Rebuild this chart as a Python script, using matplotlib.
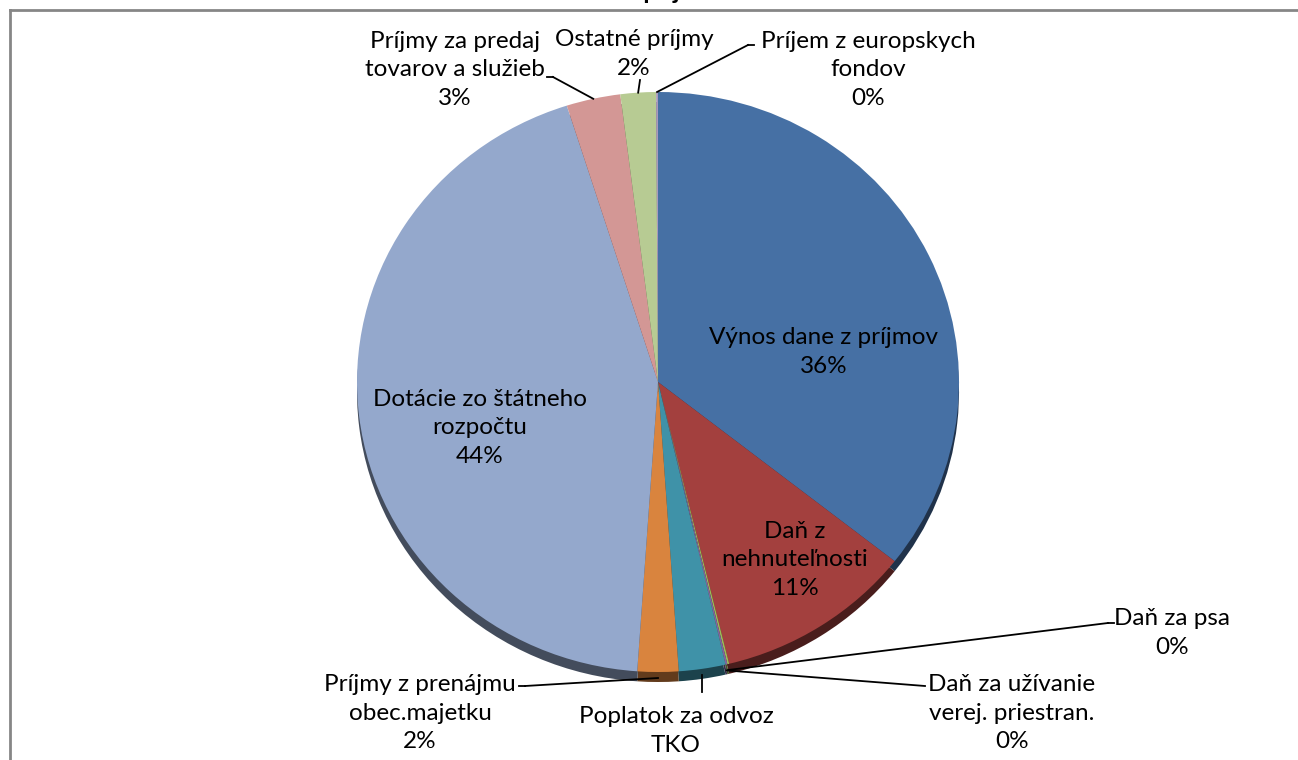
import numpy as np
import matplotlib.pyplot as plt
import matplotlib.colors as mcolors

# data (clockwise from 12 o'clock)
labels = ['Výnos dane z príjmov', 'Daň z\nnehnuteľnosti', 'Daň za psa',
          'Daň za užívanie\nverej. priestran.', 'Poplatok za odvoz\nTKO',
          'Príjmy z prenájmu\nobec.majetku', 'Dotácie zo štátneho\nrozpočtu',
          'Príjmy za predaj\ntovarov a služieb', 'Ostatné príjmy',
          'Príjem z europskych\nfondov']
values = [35.6, 10.6, 0.1, 0.1, 2.5, 2.2, 44.0, 2.9, 1.9, 0.1]
colors = ['#4670a4', '#a3403e', '#9bbb59', '#8064a2', '#3f92a8',
          '#d9843e', '#94a8cc', '#d39795', '#b7cb93', '#a99bbd']

W, H = 1298, 760
cx, cy, rx, ry = 658, 382, 301, 290

plt.rcParams['font.family'] = ['Lato', 'DejaVu Sans']

fig = plt.figure(figsize=(W / 100, H / 100), dpi=100)
ax = fig.add_axes([0, 0, 1, 1])

def px(x, y):
    return (x - cx) / rx, (cy - y) / ry

# 3d side of the pie (darker copy shifted down)
dark = [tuple(np.array(mcolors.to_rgb(c)) * 0.45) for c in colors]
ax.pie(values, colors=dark, startangle=90, counterclock=False,
       center=(0, -10 / ry), radius=1, wedgeprops=dict(linewidth=0))
wedges, _ = ax.pie(values, colors=colors, startangle=90, counterclock=False,
                   center=(0, 0), radius=1, wedgeprops=dict(linewidth=0))
ax.set_aspect('auto')
ax.set_xlim(-cx / rx, (W - cx) / rx)
ax.set_ylim((cy - H) / ry, cy / ry)
ax.axis('off')

total = sum(values)
pct = ['{:.0f}%'.format(v / total * 100) for v in values]

# label centres (pixels) and leader line end (pixels) or None
lab_pos = [(824, 352), (795, 560), (1172, 633), (1012, 713), (676, 745),
           (420, 713), (480, 428), (455, 70), (634, 54), (868, 70)]
leader_end = [None, None, (1108, 623), (925, 686), (706, 692),
              (525, 686), None, (553, 77), (640, 80), (748, 45)]

for i, w in enumerate(wedges):
    t = np.deg2rad((w.theta1 + w.theta2) / 2)
    lx, ly = px(*lab_pos[i])
    ax.text(lx, ly, labels[i] + '\n' + pct[i], ha='center', va='center',
            fontsize=17.5, linespacing=1.47, color='black')
    if leader_end[i] is not None:
        ex, ey = px(*leader_end[i])
        sx, sy = np.cos(t), np.sin(t)
        if i in (2, 3, 4, 5):
            sy -= 10 / ry * 0.6
        if i == 4:
            ex = sx
        ax.plot([sx, ex], [sy, ey], color='black', linewidth=1.3)
        if i in (2, 5, 7, 9):
            d = 6 / rx if ex > 0 else -6 / rx
            ax.plot([ex, ex + d], [ey, ey], color='black', linewidth=1.3)

# chart frame (cut at right and bottom)
fx0, fy0 = 10 / W, 1 - 10 / H
fig.add_artist(plt.Line2D([fx0, fx0], [0, fy0], color='#868686', linewidth=2))
fig.add_artist(plt.Line2D([fx0, 1], [fy0, fy0], color='#868686', linewidth=2))

# title above the frame, only its descenders fall inside the picture
fig.text(630 / W, 1 + 1 / H, 'Štruktúra príjmov', ha='center', va='baseline',
         fontsize=18, fontweight='bold')

fig.savefig('out.png', dpi=100)
